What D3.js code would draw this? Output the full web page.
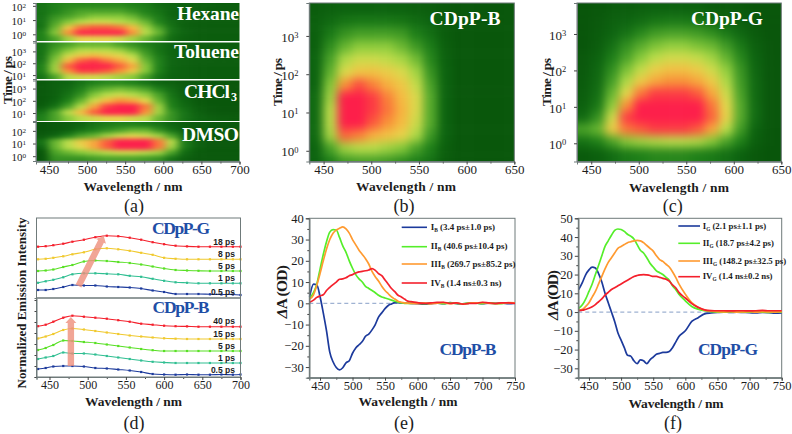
<!DOCTYPE html>
<html>
<head>
<meta charset="utf-8">
<script src="https://cdn.jsdelivr.net/npm/d3@7/dist/d3.min.js"></script>
<style>
  html, body { margin: 0; padding: 0; background: #fff; }
  text { font-family: "Liberation Serif", serif; fill: #1c1c1c; }
</style>
</head>
<body>
<svg id="chart" width="792" height="434"></svg>
<script>
// ---- data ----
// heatmap intensities, 0 (dark green) to 10 (red), rows run from long to short delay
const colsA = [441,458,475,492,509,526,543,560,577,594,611,628,645,662,679,696];
const hexaneGrid = [
  [1.5,2,2.2,2.2,2.2,2.2,2.2,2,1.8,1.2,1,.8,.8,.8,.7,.7],
  [1.5,2,2.5,3,3,3,3,2.5,2,1.5,1,.8,.8,.7,.7,.7],
  [1.5,2.5,3,3.5,4,4,4,3.5,2.5,1.8,1,.8,.7,.7,.7,.7],
  [1.5,3,4,5,5.5,5.5,5,4.5,3.5,2,1.2,.8,.7,.7,.7,.7],
  [1.5,3.5,6.5,8.5,9,9,8.5,7,4.5,3,1.5,.8,.7,.7,.7,.7],
  [2,4,8,10,10,10,10,8,5,3.5,1.5,1,.7,.7,.7,.7],
  [2,3,4.5,6,6,6,5.5,4.5,3.5,2.5,1.2,.8,.7,.7,.7,.7]
];
const tolueneGrid = [
  [1.5,2.5,3,3.5,3.5,3.5,3,2.5,2,1.5,1,.8,.7,.7,.7,.7],
  [1.5,3,4,5,5,5,4.5,3.5,2.5,1.5,1,.8,.7,.7,.7,.7],
  [1.5,3.5,5.5,6.5,7,6.5,6,5,3,1.8,1,.8,.7,.7,.7,.7],
  [1.5,4,7,9,9.5,8.5,7.5,6,3.5,2,1,.8,.7,.7,.7,.7],
  [2,4.5,9,10,10,10,9,7.5,4,2,1,.8,.7,.7,.7,.7],
  [2,4.5,8,9.5,9.5,9,8,6.5,4,2,1,.8,.7,.7,.7,.7],
  [1.5,3,5,5.5,5.5,5,4.5,4,2.8,1.5,.9,.8,.7,.7,.7,.7]
];
const chclGrid = [
  [.5,.8,1,1.5,2,2.2,2.2,2,1.5,1,.8,.5,.5,.4,.4,.4],
  [.5,.8,1.2,2,3,3.5,3.8,3.5,3,2,1.2,.6,.5,.4,.4,.4],
  [.5,.8,1.5,2.5,4,5,5.5,5,4.3,3,1.5,.7,.5,.4,.4,.4],
  [.5,1,2,3.5,5.5,7,8,7.5,6,3.5,1.8,1,.5,.4,.4,.4],
  [.7,1.5,3,5,7.5,9.5,10,10,8.5,4.5,2,1.2,.7,.5,.4,.4],
  [1.5,3,5,7,9,10,10,10,8,4.5,2.5,1.5,.8,.5,.4,.4],
  [2,3,4,5,5.5,6,6,5.5,5,3.5,2.5,1.5,1,.8,.7,.6]
];
const dmsoGrid = [
  [.3,.5,.7,1,1.5,1.8,2,2,1.8,1.5,1,.7,.5,.5,.5,.5],
  [.3,.5,.8,1.5,2,2.5,3,3.5,3.5,2.5,1.5,.8,.5,.5,.5,.5],
  [.5,1,2,3,3.5,4.5,5.5,6,5.5,4.5,3,1.2,.6,.5,.5,.5],
  [1.5,3.5,5,6.5,7.5,9,10,10,10,8.5,5,1.8,.8,.5,.5,.5],
  [1,3.5,5,6,7.5,9,10,10,10,8.5,4.5,1.8,.8,.5,.5,.5],
  [.3,3,3.5,4,4.5,5,5.5,5.5,5,4.5,3,1.2,.6,.5,.5,.5],
  [.3,2.5,2.5,2.5,2.8,3,3,3,2.8,2.5,1.5,.8,.5,.5,.5,.5]
];
const colsBC = [442,457,472,487,502,517,532,547,562,577,592,607,622,637,650];
const rowsB = [3.7,3.37,3.04,2.71,2.38,2.05,1.72,1.39,1.06,.73,.4,.07,-.26];
const cdppBGrid = [
  [.7,.8,.9,.9,.9,.9,.9,.8,.7,.5,.4,.4,.4,.4,.4],
  [.8,1.2,1.6,1.8,1.8,1.8,1.6,1.3,1,.6,.4,.4,.4,.4,.4],
  [.8,1.8,2.6,3,3,3,2.8,2,1.4,.7,.4,.4,.4,.4,.4],
  [.8,2.4,3.5,4.2,4.2,4.2,3.6,2.8,1.9,.8,.4,.4,.4,.4,.4],
  [1,3,4.8,5.5,5.5,5.2,4.7,3.7,2.2,.9,.4,.4,.4,.4,.4],
  [1,3.4,5.8,6.7,6.8,6.4,5.8,4.6,2.6,1,.4,.4,.4,.4,.4],
  [1,4,8,9.2,8.3,7.3,6.6,5.3,3,1,.4,.4,.4,.4,.4],
  [1.2,4.5,10,10,9.5,8.3,7,5.8,3.2,1,.4,.4,.4,.4,.4],
  [1.2,5,10,10,9.5,8.5,7.2,5.8,3.2,1,.4,.4,.4,.4,.4],
  [1.2,5,10,10,9,8,7,5.5,3.2,1,.4,.4,.4,.4,.4],
  [1.2,4.6,8.8,8.3,7.3,6.8,6.2,4.8,2.7,1,.4,.4,.4,.4,.4],
  [1,3,4.5,5,5,4.5,4,3,2,.8,.4,.4,.4,.4,.4],
  [1,2,2.8,3,3,2.8,2.4,2,1.5,.7,.4,.4,.4,.4,.4]
];
const rowsC = [3.68,3.35,3.02,2.69,2.36,2.03,1.7,1.37,1.04,.71,.38,.05,-.28];
const cdppGGrid = [
  [.3,.4,.6,.7,.8,.9,.9,.9,.9,.7,.6,.5,.3,.3,.3],
  [.3,.5,.8,1,1.3,1.6,1.8,1.8,1.6,1.2,1,.7,.4,.3,.3],
  [.3,.6,1,1.5,2.2,2.8,3,3,2.8,2.4,1.7,1.1,.6,.3,.3],
  [.3,.7,1.4,2.4,3.2,3.8,4.2,4.2,3.8,3.5,2.7,1.7,.8,.4,.3],
  [.5,.9,1.9,3,4,5,5.5,5.5,5.2,4.5,3.4,2.2,1,.4,.3],
  [.5,1.1,2.4,3.8,5.2,6.3,6.8,6.8,6.4,5.5,4.2,2.6,1.1,.4,.3],
  [.6,1.2,2.9,4.8,6.5,7.5,8,8,7.5,6.5,4.8,2.8,1.2,.4,.3],
  [.7,1.4,3.5,6,8.5,9.5,9.5,9.5,9,7.5,5.5,3,1.2,.4,.3],
  [.8,1.7,4.2,8,10,10,10,10,10,8.5,6,3.2,1.3,.4,.3],
  [1.2,2.5,5.5,9.5,10,10,10,10,10,8.8,6.2,3.2,1.3,.4,.3],
  [3,3.5,6.5,8.5,9,9.5,9.5,9.5,9,7.5,5,2.8,1,.4,.3],
  [1.5,2,3,4,4.5,4.8,5,5,4.8,4,3,2,.8,.4,.3],
  [.6,.8,1.3,1.8,2,2.2,2.2,2.2,2,1.8,1.4,.9,.5,.3,.3]
];

// normalized emission traces in (d), height above each trace's own baseline
const waveD = [435,445,455,468,480,495,510,525,540,555,570,585,600,615,630,645,660,675,690,700];
const g18 = [0,.5,1.5,3,5,7,9.5,11,10.5,9,7,4.5,2.5,1,.3,0,0,0,0,0];
const g8  = [0,.5,1.5,3,5,7,10,11,10,8.5,6.5,4.5,1.5,.5,0,0,0,0,0,0];
const g5  = [0,.5,1.5,4,6,9.5,10.5,10,9,8,6.5,4.5,2.5,1,.5,.2,0,0,0,0];
const g1  = [.5,2,3.5,6,9,10,10,9.5,9,7.5,6.5,4.5,2.5,1,.5,0,0,0,0,0];
const g05 = [5,5,6,8,10,9.5,9.5,8.5,8,7.5,6.5,4.5,3,1,1,1,.7,.5,.5,0];
const b40 = [.5,2,5,9,11,10,9,8,6.5,5,3,2,1,.5,.3,0,0,0,0,0];
const b15 = [.5,2.5,5,9,10.5,9.5,8,6.5,5,3.5,2.5,1.5,.7,.3,0,0,0,0,0,0];
const b5  = [1,3,6,10.5,10,9,8,6.5,5,3.5,2,.8,0,0,0,0,0,0,0,0];
const b1  = [4,5.5,7,10.5,9.5,9.5,8.5,7,5.5,4,2.5,1.2,.5,0,0,0,0,0,0,0];
const b05 = [6,7,8.5,9,9,8.5,7,6.5,5.5,4.5,3,1,.5,.3,.5,.3,.3,.5,.3,.5];

// decay associated spectra in (e) and (f)
const waveDA = [434,440,445,450,455,460,465,470,475,480,485,490,495,500,505,510,515,520,525,530,535,540,545,550,555,560,565,570,575,580,585,590,600,610,620,630,640,650,660,670,680,690,700,710,720,730,740,750];
const ib = [3,9,8.7,3.2,-4.5,-13,-23,-27.5,-30.2,-31.3,-30.3,-28,-27,-23.5,-21,-19.5,-18,-15.5,-14.5,-12.5,-10,-6.5,-4.5,-2.5,-1,-.3,.3,.3,.2,.2,.1,0,-.2,-.4,-.2,.1,-.2,.3,-.1,-.3,.1,.2,-.2,.1,-.1,.2,-.2,.1];
const iib = [2.5,5,9,16,23,29,33.5,34.7,34.5,31,27,24,20,16.5,13.5,11.5,10,8,7,6,5,3.8,3,2.5,2,1.5,1,.5,.2,0,0,0,.2,-.2,.1,.2,-.2,.2,-.1,-.2,.2,.1,-.1,.2,0,-.1,.2,.2];
const iiib = [2,4,8.5,14,20,25.5,30,33,34.5,35.3,36,35,33,30,27.5,25,23,21,18.5,15,12.5,10.5,8,6,4.5,3,2,1,.5,.2,.1,0,-.2,.2,-.3,.1,.3,-.2,.2,-.4,.1,.2,.3,0,-.2,.1,.3,.2];
const ivb = [.5,1.5,2.8,3.5,4,6,7.5,8.8,10,11.3,11.5,12,13,13.5,14.3,14.8,15,15.3,15.7,16.3,15.5,14,13,11,9,7,5.5,3.8,3,2,1,.8,.3,0,.2,.4,.5,0,.2,-.4,0,0,.5,.2,0,.2,.2,0];
const ig = [12,16,20,22.5,24,23.5,20.5,16,10,5,0,-5,-11,-15,-19,-23,-23.5,-26,-27.5,-25.5,-26,-27.5,-25.5,-24,-22.5,-22,-21.5,-21.5,-21,-19,-16,-13,-10,-5,-3,-1,-.5,-.2,0,-.2,-.1,-.2,-.3,-.5,-.2,-.3,-.6,-.5];
const iig = [2,4,7,11,15,20,25,30,35,38,41,43.5,44.3,44,43,41.5,40.5,39,36,33,31.5,29,26,24,22,21,20,18.5,17,14,12,9.5,6,3,1.5,.7,.2,0,0,.1,0,-.1,0,.1,0,-.2,.1,0];
const iiig = [1,1.5,3,5,8,11,15,19,23,26.5,29,31.5,34,35,36,37,37.5,38,38.2,38,37,35.5,34,32.5,30,28,27,25.5,24,21.5,18.5,15,9.5,5,2.5,1,.5,.2,.1,.2,0,.1,.2,0,.2,.1,0,.2];
const ivg = [.8,1,1.5,2,2.8,4,5.5,7,9,10.5,12,13,14,15,16,17,18,19,19.5,19.8,20,19.8,19.5,19,19,18.5,18,17.5,16.5,14.5,13,10.5,7.5,4.5,2.5,1.2,.8,.7,.7,.6,.7,.7,.6,.7,.9,.7,.7,.7];

const heatStops = [0,1,2,3,4,5,6,7,8,9,10];
const heatColors = ["#064e07","#0d6410","#1f8019","#4aa228","#86c93a","#b9dd4a","#e3d84c","#f5bb42","#f89238","#fb5a3c","#fd1f4a"];
const heat = d3.scaleLinear().domain(heatStops).range(heatColors).clamp(true);

const svg = d3.select("#chart");
const blue = "#1f4ea6", axisGrey = "#6f7a7a";
const navy = "#1c3a9c", green = "#55ee2a", orange = "#ff9a30", red = "#f4202c";

// blur turns the coarse cells back into the smooth ultrafast map
const defs = svg.append("defs");
[["blurBig", "5 5"], ["blurSmall", "4.5 2.2"]].forEach(([id, sd]) => {
  defs.append("filter").attr("id", id)
    .attr("color-interpolation-filters", "sRGB")
    .append("feGaussianBlur").attr("stdDeviation", sd);
});

let clipCount = 0;
function drawHeat(x, y, cols, rows, grid, blurId) {
  const [x0, x1] = x.range(), [y0, y1] = y.range();
  const id = "clip" + (clipCount++);
  defs.append("clipPath").attr("id", id).append("rect")
    .attr("x", x0).attr("y", y1).attr("width", x1 - x0).attr("height", y0 - y1);
  // cell edges are midpoints between sampled positions, outer cells run past the frame
  const xEdge = cols.map((c, i) => i ? x((cols[i - 1] + c) / 2) : x0 - 30).concat(x1 + 30);
  const yEdge = rows.map((r, i) => i ? y((rows[i - 1] + r) / 2) : y1 - 20).concat(y0 + 20);
  const cells = [];
  grid.forEach((row, r) => row.forEach((v, c) => cells.push({ r, c, v })));
  svg.append("g").attr("clip-path", `url(#${id})`)
    .append("g").attr("filter", `url(#${blurId})`)
    .selectAll("rect").data(cells).join("rect")
    .attr("x", d => xEdge[d.c]).attr("y", d => yEdge[d.r])
    .attr("width", d => xEdge[d.c + 1] - xEdge[d.c] + .5)
    .attr("height", d => yEdge[d.r + 1] - yEdge[d.r] + .5)
    .attr("fill", d => heat(d.v));
}

function styleAxis(g, size) {
  g.selectAll("path").attr("stroke", axisGrey);
  g.selectAll("line").attr("stroke", "#444");
  g.selectAll("text").attr("font-size", size).attr("fill", "#1c1c1c")
    .attr("font-family", "Liberation Serif");
}

function bottomAxis(x, yPos, size, max) {
  const majors = d3.range(450, max + 1, 50);
  const minors = d3.range(475, max, 50);
  const minor = svg.append("g").attr("transform", `translate(0,${yPos})`)
    .call(d3.axisBottom(x).tickValues(minors).tickSize(2).tickFormat(""));
  styleAxis(minor, size);
  const g = svg.append("g").attr("transform", `translate(0,${yPos})`)
    .call(d3.axisBottom(x).tickValues(majors).tickSize(3).tickPadding(0).tickFormat(d3.format("d")));
  styleAxis(g, size);
}

function logAxis(y, xPos, exps, size) {
  const g = svg.append("g").attr("transform", `translate(${xPos},0)`)
    .call(d3.axisLeft(y).tickValues(exps).tickSize(3).tickPadding(2).tickFormat(""));
  styleAxis(g, size);
  g.selectAll(".tick text").each(function (d) {
    const t = d3.select(this).text("10").attr("dy", "0.4em").attr("dx", size * -.45);
    t.append("tspan").text(d).attr("dy", "-0.45em").attr("font-size", size * .65);
  });
}

function frame(x, y) {
  const [x0, x1] = x.range(), [y0, y1] = y.range();
  svg.append("rect").attr("x", x0).attr("y", y1).attr("width", x1 - x0).attr("height", y0 - y1)
    .attr("fill", "none").attr("stroke", axisGrey).attr("stroke-width", 1);
}

function label(x, y, txt, opts = {}) {
  const t = svg.append("text").attr("x", x).attr("y", y).text(txt)
    .attr("text-anchor", opts.anchor || "middle")
    .attr("font-size", opts.size || 13)
    .attr("font-weight", opts.weight || "bold");
  if (opts.fill) t.style("fill", opts.fill);
  if (opts.length) t.attr("textLength", opts.length).attr("lengthAdjust", "spacing");
  if (opts.rotate) t.attr("transform", `rotate(-90 ${x} ${y})`);
  if (opts.font) t.style("font-family", opts.font);
  return t;
}

// rotated ΔA label, the delta is set in italics
function daLabel(x, y, length) {
  const t = label(x, y, "", { size: 15.5, rotate: true, length }).attr("dy", "0.35em");
  t.append("tspan").text("Δ").style("font-style", "italic");
  t.append("tspan").text("A (OD)");
}

// ---- (a) solvents ----
const xA = d3.scaleLinear().domain([433, 700]).range([36, 239.5]);
const solvents = [
  { name: "Hexane", grid: hexaneGrid, dom: [-.47, 2.2], rng: [41, 3], exps: [0, 1, 2], lx: 177, ly: 20, w: 62 },
  { name: "Toluene", grid: tolueneGrid, dom: [.67, 3.75], rng: [79, 42.5], exps: [1, 2, 3], lx: 174, ly: 58, w: 65 },
  { name: "CHCl", sub: "3", grid: chclGrid, dom: [.35, 3.66], rng: [121, 80.5], exps: [1, 2, 3], lx: 184, ly: 98, w: 46 },
  { name: "DMSO", grid: dmsoGrid, dom: [-.38, 2.7], rng: [161, 122], exps: [0, 1, 2], lx: 182, ly: 141, w: 57 }
];
solvents.forEach(s => {
  const y = d3.scaleLinear().domain(s.dom).range(s.rng);
  const rows = d3.range(s.grid.length).map(i => s.dom[1] - (i + .5) * (s.dom[1] - s.dom[0]) / s.grid.length);
  drawHeat(xA, y, colsA, rows, s.grid, "blurSmall");
  logAxis(y, 36, s.exps, 11);
});
solvents.forEach(s => {
  label(s.lx, s.ly, s.name, { anchor: "start", size: 19.5, fill: "#fff", length: s.w });
  if (s.sub) {
    svg.append("text").attr("x", s.lx + s.w + 1).attr("y", s.ly + 3).text(s.sub)
      .attr("font-size", 12).attr("font-weight", "bold").style("fill", "#fff");
  }
});
svg.append("line").attr("x1", 36).attr("x2", 36).attr("y1", 3).attr("y2", 161).attr("stroke", axisGrey);
svg.append("line").attr("x1", 36).attr("x2", 239.5).attr("y1", 161.3).attr("y2", 161.3).attr("stroke", axisGrey);
bottomAxis(xA, 161.5, 13, 700);
label(7.5, 80, "Time / ps", { size: 13.5, rotate: true, length: 48 }).attr("dy", "0.35em");
label(133, 191, "Wavelength / nm", { size: 13.5, length: 99 });
label(134, 212, "(a)", { size: 18, weight: "normal" });

// ---- (b) and (c) big maps ----
const xB = d3.scaleLinear().domain([435, 650]).range([309.3, 514.3]);
const yB = d3.scaleLinear().domain([-.28, 3.86]).range([161.5, 3]);
drawHeat(xB, yB, colsBC, rowsB, cdppBGrid, "blurBig");
frame(xB, yB);
bottomAxis(xB, 161.5, 13, 650);
logAxis(yB, 309.3, [0, 1, 2, 3], 13);
label(465, 25, "CDpP-B", { size: 19.5, fill: "#fff", length: 71 });
label(277.5, 82, "Time / ps", { size: 13.5, rotate: true, length: 48 }).attr("dy", "0.35em");
label(406, 191, "Wavelength / nm", { size: 13.5, length: 100 });
label(404, 212, "(b)", { size: 18, weight: "normal" });

const xC = d3.scaleLinear().domain([435, 650]).range([577, 781.3]);
const yC = d3.scaleLinear().domain([-.5, 3.85]).range([161.5, 3]);
drawHeat(xC, yC, colsBC, rowsC, cdppGGrid, "blurBig");
frame(xC, yC);
bottomAxis(xC, 161.5, 13, 650);
logAxis(yC, 577, [0, 1, 2, 3], 13);
label(727, 25, "CDpP-G", { size: 19.5, fill: "#fff", length: 72 });
label(546.7, 82, "Time / ps", { size: 13.5, rotate: true, length: 48 }).attr("dy", "0.35em");
label(679, 192, "Wavelength / nm", { size: 13.5, length: 100 });
label(672.7, 212, "(c)", { size: 18, weight: "normal" });

// ---- (d) normalized emission ----
const xD = d3.scaleLinear().domain([433, 700]).range([36.5, 240.5]);
const yD1 = d3.scaleLinear().domain([0, 80]).range([298, 218]);
const yD2 = d3.scaleLinear().domain([0, 79]).range([377, 298]);
const teal = "#30bf92", yellow = "#f0c92e", lime = "#58e024";
const tracesG = [
  { v: g18, base: 51.3, c: red, name: "18 ps", ly: 245 },
  { v: g8, base: 38.7, c: yellow, name: "8 ps", ly: 257 },
  { v: g5, base: 27, c: lime, name: "5 ps", ly: 269 },
  { v: g1, base: 14.7, c: teal, name: "1 ps", ly: 281 },
  { v: g05, base: 3, c: navy, name: "0.5 ps", ly: 295 }
];
const tracesB = [
  { v: b40, base: 50.3, c: red, name: "40 ps", ly: 323.5 },
  { v: b15, base: 38, c: yellow, name: "15 ps", ly: 336.5 },
  { v: b5, base: 26, c: lime, name: "5 ps", ly: 349 },
  { v: b1, base: 14, c: teal, name: "1 ps", ly: 361 },
  { v: b05, base: 2, c: navy, name: "0.5 ps", ly: 373 }
];
function drawTraces(traces, y) {
  traces.forEach(t => {
    const line = d3.line().x((d, i) => xD(waveD[i])).y(d => y(t.base + d)).curve(d3.curveMonotoneX);
    svg.append("path").attr("d", line(t.v)).attr("fill", "none").attr("stroke", t.c).attr("stroke-width", 1.1);
    svg.append("g").selectAll("rect").data(t.v).join("rect")
      .attr("x", (d, i) => xD(waveD[i]) - 1.1).attr("y", d => y(t.base + d) - 1.1)
      .attr("width", 2.2).attr("height", 2.2).attr("fill", t.c);
    label(235, t.ly, t.name, { anchor: "end", size: 8.5, font: "Liberation Sans" });
  });
}
// broad shift arrows go under the labels but over the traces
drawTraces(tracesG, yD1);
drawTraces(tracesB, yD2);
function shiftArrow(x1, y1, x2, y2) {
  const dx = x2 - x1, dy = y2 - y1, len = Math.hypot(dx, dy);
  const ux = dx / len, uy = dy / len, nx = -uy, ny = ux, w = 3.2, hw = 5.5, hl = 6;
  const bx = x2 - ux * hl, by = y2 - uy * hl;
  const pts = [[x1 + nx * w, y1 + ny * w], [bx + nx * w, by + ny * w], [bx + nx * hw, by + ny * hw], [x2, y2],
    [bx - nx * hw, by - ny * hw], [bx - nx * w, by - ny * w], [x1 - nx * w, y1 - ny * w]];
  svg.append("polygon").attr("points", pts.map(p => p.join(",")).join(" "))
    .attr("fill", "#ee8f7c").attr("fill-opacity", .8);
}
shiftArrow(xD(488), yD1(12), xD(521), yD1(62));
shiftArrow(xD(478), yD2(11), xD(478), yD2(60));
frame(xD, yD1);
frame(xD, yD2);
svg.append("g").attr("transform", "translate(36.5,0)")
  .call(d3.axisLeft(yD2).tickValues(d3.range(0, 79, 11)).tickSize(2).tickFormat(""))
  .call(g => styleAxis(g, 8));
bottomAxis(xD, 377, 12, 700);
label(181, 234, "CDpP-G", { size: 17.5, fill: blue, length: 58 });
label(181, 313, "CDpP-B", { size: 17.5, fill: blue, length: 57 });
label(21, 303, "Normalized Emission Intensity", { size: 13, rotate: true, length: 171 }).attr("dy", "0.35em");
label(133.5, 406, "Wavelength / nm", { size: 13.5, length: 97 });
label(134, 429, "(d)", { size: 18, weight: "normal" });

// ---- (e) and (f) decay spectra ----
function drawSpectra(x, y, series, maxY, yLeft) {
  frame(x, y);
  const line = d3.line().x((d, i) => x(waveDA[i])).y(d => y(d)).curve(d3.curveMonotoneX);
  svg.append("line").attr("x1", x.range()[0]).attr("x2", x.range()[1])
    .attr("y1", y(0)).attr("y2", y(0))
    .attr("stroke", "#9fb2d2").attr("stroke-width", 1.2).attr("stroke-dasharray", "4 3");
  series.forEach(s => {
    svg.append("path").attr("d", line(s.v)).attr("fill", "none").attr("stroke", s.c).attr("stroke-width", 1.7);
  });
  const ym = svg.append("g").attr("transform", `translate(${yLeft},0)`)
    .call(d3.axisLeft(y).tickValues(d3.range(-35, maxY, 10)).tickSize(2).tickFormat(""));
  styleAxis(ym, 12);
  const yt = svg.append("g").attr("transform", `translate(${yLeft},0)`)
    .call(d3.axisLeft(y).tickValues(d3.range(-30, maxY + 1, 10)).tickSize(3.5).tickPadding(2).tickFormat(d3.format("d")));
  styleAxis(yt, 12.5);
  bottomAxis(x, 377.7, 12.5, 750);
}
function legendRow(x1, x2, tx, y, c, num, sub, rest, size) {
  svg.append("line").attr("x1", x1).attr("x2", x2).attr("y1", y).attr("y2", y).attr("stroke", c).attr("stroke-width", 1.6);
  const t = svg.append("text").attr("x", tx).attr("y", y + 2.5).attr("font-size", size).attr("font-weight", "bold");
  t.append("tspan").text(num);
  t.append("tspan").text(sub).attr("font-size", size * .6).attr("dy", 2);
  t.append("tspan").text(" " + rest).attr("dy", -2);
}

const xE = d3.scaleLinear().domain([433.5, 750]).range([309.3, 515]);
const yE = d3.scaleLinear().domain([-35, 40]).range([377.7, 218.3]);
drawSpectra(xE, yE, [{ v: ib, c: navy }, { v: iib, c: green }, { v: iiib, c: orange }, { v: ivb, c: red }], 40, 309.3);
const legE = [["I", "B", "(3.4 ps±1.0 ps)", navy, 227.3], ["II", "B", "(40.6 ps±10.4 ps)", green, 246.7],
  ["III", "B", "(269.7 ps±85.2 ps)", orange, 264], ["IV", "B", "(1.4 ns±0.3 ns)", red, 283]];
legE.forEach(l => legendRow(401.7, 427, 430.7, l[4], l[3], l[0], l[1], l[2], 9));
label(468, 355, "CDpP-B", { size: 17.5, fill: blue, length: 57 });
daLabel(282, 291.7, 53);
label(408, 406, "Wavelength / nm", { size: 13.5, length: 99 });
label(404, 429, "(e)", { size: 18, weight: "normal" });

const xF = d3.scaleLinear().domain([433.4, 750]).range([578.3, 781.7]);
const yF = d3.scaleLinear().domain([-35, 50]).range([377.7, 218.3]);
drawSpectra(xF, yF, [{ v: ig, c: navy }, { v: iig, c: green }, { v: iiig, c: orange }, { v: ivg, c: red }], 50, 578.3);
const legF = [["I", "G", "(2.1 ps±1.1 ps)", navy, 226], ["II", "G", "(18.7 ps±4.2 ps)", green, 243.3],
  ["III", "G", "(148.2 ps±32.5 ps)", orange, 261], ["IV", "G", "(1.4 ns±0.2 ns)", red, 276.7]];
legF.forEach(l => legendRow(678.3, 700, 702.7, l[4], l[3], l[0], l[1], l[2], 8.8));
label(728, 355, "CDpP-G", { size: 17.5, fill: blue, length: 60 });
daLabel(553, 295, 50);
label(676, 408, "Wavelength / nm", { size: 13.5, length: 95 });
label(673, 429, "(f)", { size: 18, weight: "normal" });
</script>
</body>
</html>
